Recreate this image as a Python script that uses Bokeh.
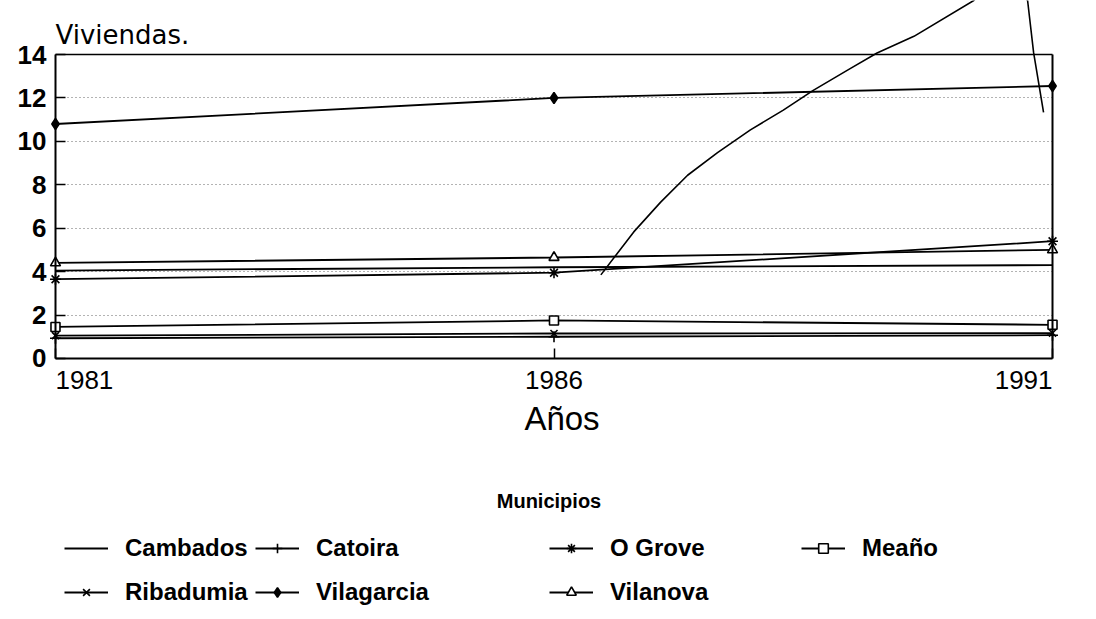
from bokeh.plotting import figure
from bokeh.models import Range1d, LinearAxis, FixedTicker, Label, Legend, LegendItem
from bokeh.embed import file_html
from bokeh.resources import INLINE

# ---- data ----
anios = [1981, 1986, 1991]
municipios = ["Cambados", "Catoira", "O Grove", "Meaño", "Ribadumia", "Vilagarcia", "Vilanova"]
cambados = [4.05, 4.2, 4.3]
catoira = [0.93, 1.0, 1.07]
o_grove = [3.65, 3.95, 5.4]
meano = [1.45, 1.75, 1.55]
ribadumia = [1.05, 1.15, 1.17]
vilagarcia = [10.8, 12.0, 12.55]
vilanova = [4.4, 4.65, 5.0]
series = [cambados, catoira, o_grove, meano, ribadumia, vilagarcia, vilanova]

# stray pen stroke visible on the original scan
trazo_x = [1986.47, 1986.80, 1987.07, 1987.34, 1987.64, 1987.97, 1988.30, 1988.60,
           1988.97, 1989.24, 1989.61, 1990.21, 1990.50, 1990.75, 1990.81, 1990.91]
trazo_y = [3.85, 5.83, 7.20, 8.44, 9.48, 10.53, 11.44, 12.35,
           13.35, 14.07, 14.84, 16.49, 17.8, 16.49, 14.1, 11.34]

y_ticks = [0, 2, 4, 6, 8, 10, 12, 14]
grid_ticks = [2, 4, 6, 8, 10, 12]
y_top = 14

# ---- styles ----
markers = [None, "cross", "asterisk", "square", "x", "diamond", "triangle"]
fills = [None, "black", "black", "white", "black", "black", "white"]
sizes = [0, 11, 11, 9, 10, 11, 10]
FONT = "Liberation Sans"

# the frame covers the chart plus the area of its titles and key, so nothing is clipped
p = figure(frame_width=1011, frame_height=608, output_backend="svg", toolbar_location=None,
           x_range=Range1d(1980.93, 1991.07), y_range=Range1d(-11.52, 16.49),
           min_border_left=48, min_border_right=21, min_border_top=0, min_border_bottom=0)
p.outline_line_color = None
p.background_fill_color = "white"
p.border_fill_color = "white"
p.xgrid.visible = False

yg = p.ygrid[0]
yg.ticker = FixedTicker(ticks=grid_ticks)
yg.cross_bounds = (anios[0], anios[-1])
yg.grid_line_color = "black"
yg.grid_line_alpha = 0.6
yg.grid_line_dash = "1 3"
yg.grid_line_width = 1

# left: labels on the regular axis, line + ticks on an axis pinned at 1981
yl = p.yaxis[0]
yl.ticker = FixedTicker(ticks=y_ticks)
yl.axis_line_color = None
yl.major_tick_in = 0
yl.major_tick_out = 0
yl.minor_tick_in = 0
yl.minor_tick_out = 0
yl.major_label_standoff = 2
yl.major_label_text_font = FONT
yl.major_label_text_font_style = "bold"
yl.major_label_text_font_size = "26px"
yl.major_label_text_color = "black"

blank = {t: "" for t in y_ticks}
yf = LinearAxis(fixed_location=anios[0], bounds=(0, y_top), ticker=FixedTicker(ticks=y_ticks),
                axis_line_width=2, major_tick_in=10, major_tick_out=0, major_tick_line_width=1.5,
                minor_tick_in=0, minor_tick_out=0, major_label_overrides=blank,
                major_label_text_font_size="0px", major_label_standoff=0)
p.add_layout(yf, "left")

p.xaxis[0].visible = False
xf = LinearAxis(fixed_location=0, bounds=(anios[0], anios[-1]), ticker=FixedTicker(ticks=anios),
                axis_line_width=2, major_tick_in=10, major_tick_out=0, major_tick_line_width=1.5,
                minor_tick_in=0, minor_tick_out=0, major_label_overrides={a: "" for a in anios},
                major_label_text_font_size="0px", major_label_standoff=0)
p.add_layout(xf, "below")

ra = LinearAxis(fixed_location=anios[-1], bounds=(0, y_top), ticker=FixedTicker(ticks=[]),
                axis_line_width=2, major_tick_in=0, major_tick_out=0,
                minor_tick_in=0, minor_tick_out=0, major_label_text_font_size="0px")
p.add_layout(ra, "right")
ta = LinearAxis(fixed_location=y_top, bounds=(anios[0], anios[-1]), ticker=FixedTicker(ticks=[]),
                axis_line_width=1.5, major_tick_in=0, major_tick_out=0,
                minor_tick_in=0, minor_tick_out=0, major_label_text_font_size="0px")
p.add_layout(ta, "above")

# ---- series ----
items = []
for name, vals, mk, fc, sz in zip(municipios, series, markers, fills, sizes):
    rs = [p.line(anios, vals, line_color="black", line_width=1.8)]
    if mk is not None:
        rs.append(p.scatter(anios, vals, marker=mk, size=sz, line_color="black",
                            fill_color=fc, line_width=1.6))
    items.append(LegendItem(label=name, renderers=rs))

p.line(trazo_x, trazo_y, line_color="black", line_width=1.6)

# ---- texts ----
p.add_layout(Label(x=anios[0], y=y_top, y_offset=20, text="Viviendas.",
                   text_font="DejaVu Sans", text_font_size="26px", text_color="black",
                   text_baseline="alphabetic", text_align="left"))
aligns = ["left", "center", "right"]
for a, al in zip(anios, aligns):
    p.add_layout(Label(x=a, y=0, y_offset=-13, text=str(a), text_align=al, text_baseline="top",
                       text_font=FONT, text_font_size="26px", text_color="black"))
p.add_layout(Label(x=anios[1], y=0, x_offset=8, y_offset=-60, text="Años", text_align="center",
                   text_baseline="alphabetic", text_font=FONT, text_font_size="33px",
                   text_color="black"))
p.add_layout(Label(x=anios[1], y=0, x_offset=-5, y_offset=-143, text="Municipios",
                   text_align="center", text_baseline="alphabetic", text_font=FONT,
                   text_font_style="bold", text_font_size="20px", text_color="black"))

# ---- key: 4 columns, 2 rows ----
cols = [[0, 4], [1, 5], [2, 6], [3]]
col_x = [16, 207, 501, 753]
col_y = [2, 2, 2, 46]
for idxs, cx, cy in zip(cols, col_x, col_y):
    leg = Legend(items=[items[i] for i in idxs], location=(cx, cy), orientation="vertical",
                 label_text_font=FONT, label_text_font_style="bold",
                 label_text_font_size="24px", label_text_color="black",
                 glyph_width=44, glyph_height=24, label_height=24, label_standoff=17,
                 spacing=16, padding=0, margin=0, border_line_color=None,
                 background_fill_alpha=0)
    p.add_layout(leg)

open("out.html", "w").write(file_html(p, INLINE))
